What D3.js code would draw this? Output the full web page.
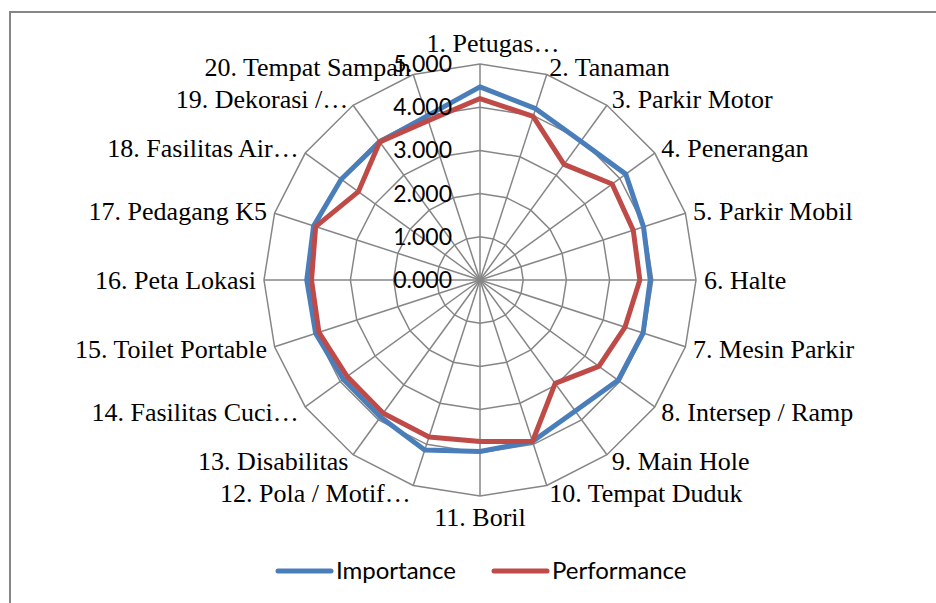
<!DOCTYPE html>
<html><head><meta charset="utf-8">
<script src="https://cdn.jsdelivr.net/npm/d3@7"></script>
<style>body{margin:0;background:#fff}svg{display:block}</style>
</head><body>
<svg id="c" width="936" height="603"></svg>
<script>
const categories = ["1. Petugas…","2. Tanaman","3. Parkir Motor","4. Penerangan","5. Parkir Mobil","6. Halte","7. Mesin Parkir","8. Intersep / Ramp","9. Main Hole","10. Tempat Duduk","11. Boril","12. Pola / Motif…","13. Disabilitas","14. Fasilitas Cuci…","15. Toilet Portable","16. Peta Lokasi","17. Pedagang K5","18. Fasilitas Air…","19. Dekorasi /…","20. Tempat Sampah"];
const importance = [4.47,4.17,3.97,4.17,3.98,3.94,3.97,3.95,3.75,3.93,3.97,4.14,3.92,3.91,4.00,4.01,4.05,3.97,3.95,3.99];
const performance = [4.20,3.98,3.31,3.78,3.73,3.70,3.53,3.40,2.96,3.93,3.74,3.82,3.81,3.80,3.92,3.90,4.00,3.48,3.95,3.88];
const tickValues = [0,1,2,3,4,5];
const seriesNames = ["Importance","Performance"];
const seriesColors = ["#4a7ebb","#be4b48"];

const svg = d3.select("#c");
const cx = 480, cy = 280, R = 216;
const r = d3.scaleLinear().domain([0,5]).range([0,R]);
const ang = d3.scaleLinear().domain([0,categories.length]).range([0,2*Math.PI]);
const pt = (i,v)=>[cx + r(v)*Math.sin(ang(i)), cy - r(v)*Math.cos(ang(i))];

svg.append("path").attr("d","M10,604 L10,12 L936,12").attr("fill","none").attr("stroke","#868686").attr("stroke-width",2);

const grid = svg.append("g").attr("stroke","#868686").attr("stroke-width",1.5).attr("fill","none");
tickValues.filter(t=>t>0).forEach(t=>{
  grid.append("path").attr("d", d3.line()(categories.map((c,i)=>pt(i,t))) + "Z");
});
categories.forEach((c,i)=>{
  const [x,y] = pt(i,5);
  grid.append("line").attr("x1",cx).attr("y1",cy).attr("x2",x).attr("y2",y);
});

const line = d3.line().curve(d3.curveLinearClosed);
[importance, performance].forEach((s,k)=>{
  svg.append("path").attr("d", line(s.map((v,i)=>pt(i,v))))
    .attr("fill","none").attr("stroke",seriesColors[k]).attr("stroke-width",5).attr("stroke-linejoin","round");
});

const serif = "font-family:'Liberation Serif','DejaVu Serif',serif;font-size:26px";
const lab = svg.append("g").attr("fill","#000");
categories.forEach((c,i)=>{
  const a = ang(i), s = Math.sin(a), co = Math.cos(a);
  const [vx,vy] = pt(i,5);
  let x = vx + 8*s, y = vy - 8*co;
  let anchor = Math.abs(s) < 0.01 ? "middle" : (s > 0 ? "start" : "end");
  if (Math.abs(s) < 0.01) { y -= co*13; if (co > 0) x += 13; }
  lab.append("text").attr("style",serif).attr("x",x).attr("y",y + 9).attr("text-anchor",anchor).text(c);
});

const sans = "font-family:Lato,'Open Sans',sans-serif";
const tk = svg.append("g").attr("fill","#000").attr("text-anchor","end");
tickValues.forEach(t=>{
  tk.append("text").attr("style",sans+";font-size:23px").attr("x",452).attr("y",cy - r(t) + 8).text(d3.format(".3f")(t));
});

const lg = svg.append("g");
const legendX = [278, 494];
seriesNames.forEach((n,k)=>{
  const g = lg.append("g").attr("transform",`translate(${legendX[k]},571)`);
  g.append("line").attr("x1",0).attr("x2",53).attr("stroke",seriesColors[k]).attr("stroke-width",5).attr("stroke-linecap","round");
  g.append("text").attr("style",sans+";font-size:24px").attr("x",58).attr("y",8).text(n);
});
</script>
</body></html>
